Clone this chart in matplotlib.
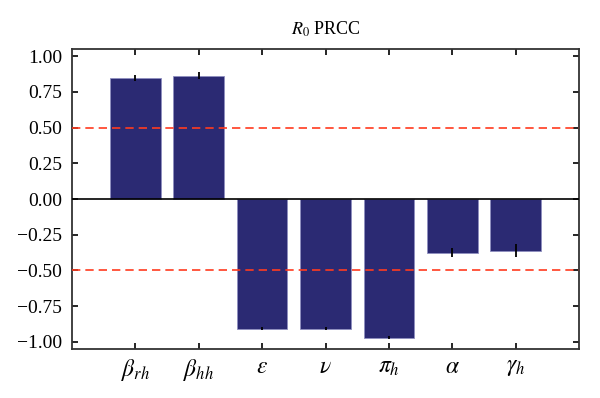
import numpy as np
from matplotlib import pyplot as plt

plt.rcParams["font.family"] = ["Liberation Serif", "DejaVu Serif"]
plt.rcParams["mathtext.fontset"] = "stix"

# PRCC values
params = [r"$\beta_{rh}$", r"$\beta_{hh}$", r"$\epsilon$", r"$\nu$",
          r"$\pi_h$", r"$\alpha$", r"$\gamma_h$"]
prcc = [0.846, 0.862, -0.909, -0.909, -0.970, -0.375, -0.362]
err = [0.023, 0.025, 0.01, 0.01, 0.01, 0.03, 0.045]

fig = plt.figure(figsize=(6, 3.98), dpi=100)
ax = fig.add_axes([0.12, 0.123, 0.845, 0.754])

x = np.arange(len(params))
ax.bar(x, prcc, width=0.8, color="#2b2a73", edgecolor="#8f8fc0", linewidth=0.6,
       yerr=err, ecolor="black", error_kw=dict(elinewidth=1.3, capsize=0), zorder=2)

ax.axhline(0, color="black", linewidth=1.2, zorder=3)
ax.axhline(0.5, color="#ff3b1f", linestyle=(0, (5, 3)), linewidth=1.2, zorder=3)
ax.axhline(-0.5, color="#ff3b1f", linestyle=(0, (5, 3)), linewidth=1.2, zorder=3)

ax.set_xlim(-1, 7)
ax.set_ylim(-1.05, 1.05)
ax.set_xticks(x)
ax.set_xticklabels(params, fontsize=17)
ax.set_yticks([-1.0, -0.75, -0.5, -0.25, 0, 0.25, 0.5, 0.75, 1.0])
ax.set_yticklabels(["−1.00", "−0.75", "−0.50", "−0.25", "0.00", "0.25", "0.50", "0.75", "1.00"],
                   fontsize=14)
ax.tick_params(direction="in", top=True, right=True, length=4, width=1.2, colors="black")
ax.tick_params(axis="y", pad=7)
ax.tick_params(axis="x", pad=6)
for s in ax.spines.values():
    s.set_linewidth(1.3)
    s.set_color("#333333")

ax.set_title(r"$R_0$ PRCC", fontsize=13, pad=10)

plt.savefig("out.png", dpi=100)
